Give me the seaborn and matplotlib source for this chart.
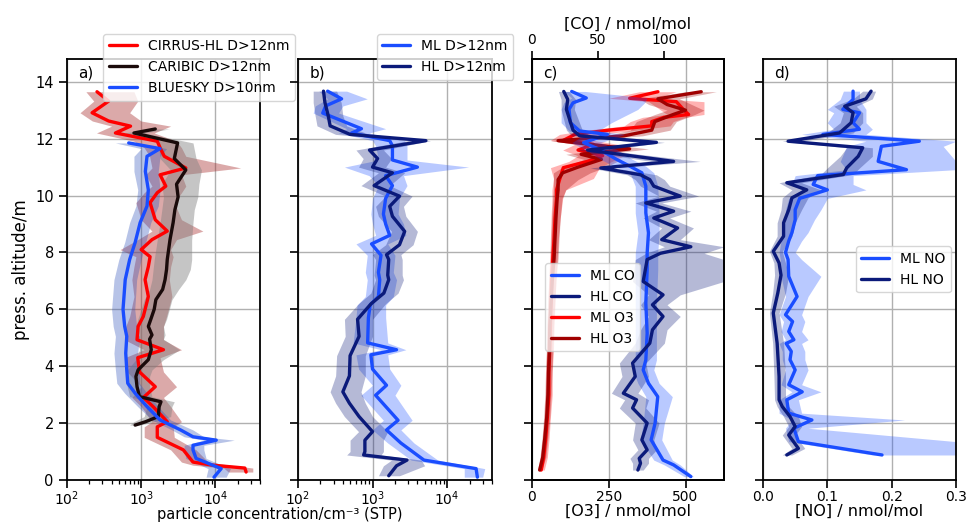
import matplotlib
matplotlib.use('Agg')
import matplotlib.pyplot as plt
import seaborn as sns
import numpy as np

# ---------------- data ----------------
# panel a: CIRRUS-HL D>12nm
cir_alt = [0.28, 0.42, 0.52, 0.63, 1.06, 1.5, 1.87, 2.05, 2.58, 2.9, 3.28, 3.8, 4.3, 4.58, 4.93, 5.4, 5.75, 6.45, 7.04, 7.5,
           7.85, 8.1, 8.45, 8.75, 9.15, 9.75, 10.1, 10.33, 10.73, 10.97, 11.38, 11.68, 11.91, 12.2, 12.44, 12.62, 12.91, 13.32, 13.65]
cir_val = [26000, 25000, 9300, 5000, 3700, 1650, 1650, 2250, 1450, 1070, 1550, 950, 900, 2000, 880, 910, 1070, 1250, 1130, 1250,
           1320, 1000, 1400, 2250, 1550, 1320, 1650, 2150, 1800, 4000, 2050, 1800, 1650, 450, 720, 365, 218, 365, 254]
cir_lo = [15000, 13000, 5000, 3500, 2500, 1100, 1100, 1400, 1000, 750, 1000, 650, 600, 1100, 600, 620, 700, 800, 750, 800,
          850, 520, 900, 1400, 1000, 850, 1100, 1400, 1150, 1400, 1300, 1100, 800, 250, 400, 220, 150, 230, 180]
cir_hi = [32000, 32000, 16000, 8000, 5500, 2800, 2700, 3500, 2500, 2000, 3000, 2000, 1800, 3500, 2000, 2000, 2200, 2600, 2400, 2500,
          2700, 2500, 3000, 6800, 3500, 2800, 3500, 4000, 3500, 22000, 4000, 3500, 3000, 1500, 2500, 1000, 700, 900, 800]

# panel a: CARIBIC D>12nm
car_alt = [1.93, 2.05, 2.23, 2.58, 2.75, 2.93, 3.28, 3.64, 3.87, 4.23, 4.58, 4.95, 5.1, 5.4, 5.65, 6.0, 6.34, 6.7, 7.04, 7.4,
           7.75, 8.45, 9.05, 9.5, 9.95, 10.4, 10.9, 11.3, 11.85, 12.2, 12.34]
car_val = [830, 1150, 1700, 1750, 1850, 950, 880, 850, 910, 1250, 1370, 1300, 1400, 1250, 1350, 1500, 1580, 1950, 2100, 2200,
           2250, 2450, 2700, 2850, 3150, 3000, 4000, 2800, 3100, 800, 1550]
car_lo = [700, 800, 1100, 1200, 1300, 700, 650, 620, 650, 850, 950, 900, 950, 850, 900, 1000, 1100, 1300, 1400, 1450,
          1500, 1650, 1800, 1900, 2000, 1900, 2500, 1800, 1700, 600, 1300]
car_hi = [950, 1500, 2500, 2600, 2800, 1400, 1300, 1300, 1400, 2000, 3300, 2000, 2100, 2000, 2200, 2400, 2600, 3200, 4000, 4600,
          4800, 4800, 5000, 5200, 5800, 6000, 6500, 5500, 5000, 1100, 2400]

# panel a: BLUESKY D>10nm
blu_alt = [0.1, 0.4, 0.76, 1.06, 1.22, 1.4, 1.52, 1.76, 2.11, 2.58, 3.05, 3.4, 3.87, 4.46, 5.05, 5.4, 6.0, 7.04, 7.75, 8.35,
           9.05, 9.63, 10.2, 10.85, 11.38, 11.65, 11.85]
blu_val = [9600, 12000, 5500, 5000, 5000, 10300, 5000, 3400, 1800, 1200, 830, 660, 640, 620, 640, 600, 570, 610, 700, 830,
           970, 1200, 1250, 1140, 1200, 1800, 680]
blu_lo = [7500, 8000, 4000, 3800, 3800, 7000, 3800, 2600, 1400, 900, 600, 470, 450, 430, 450, 420, 400, 430, 500, 600,
          700, 850, 900, 800, 800, 1000, 450]
blu_hi = [14000, 16000, 7500, 7000, 7000, 18000, 7000, 5000, 2500, 1700, 1200, 950, 950, 900, 950, 870, 820, 870, 1000, 1150,
          1350, 1700, 1800, 1700, 1800, 2200, 900]

# panel b: ML D>12nm
bml_alt = [0.1, 0.4, 0.7, 1.3, 1.76, 2.1, 2.98, 3.33, 3.9, 4.4, 4.58, 4.82, 5.7, 6.15, 6.45, 7.04, 7.3, 7.9, 8.3, 8.6,
           9.0, 9.35, 9.9, 10.35, 10.7, 11.0, 11.25, 11.75, 11.93, 12.2, 12.35, 12.9, 13.15, 13.4, 13.67]
bml_val = [25500, 24500, 4900, 2400, 1540, 2200, 1100, 1540, 1000, 950, 2100, 860, 880, 930, 1200, 1250, 1200, 1300, 970, 1700,
           1500, 1400, 1500, 1850, 1500, 4000, 1850, 1850, 1700, 525, 710, 215, 235, 385, 250]
bml_lo = [17000, 17000, 3300, 1600, 1000, 1400, 700, 1000, 650, 600, 1300, 550, 600, 620, 800, 850, 800, 850, 600, 1100,
          1000, 950, 1000, 1200, 900, 420, 1200, 1100, 1000, 350, 450, 160, 170, 250, 190]
bml_hi = [30000, 32000, 7500, 3600, 2400, 3400, 2000, 2400, 1700, 1600, 2800, 1600, 1500, 1500, 1900, 2100, 1900, 2000, 1600, 2800,
          2600, 2200, 2300, 2900, 2600, 19500, 2900, 2900, 2700, 900, 1500, 350, 400, 850, 450]

# panel b: HL D>12nm
bhl_alt = [0.15, 0.5, 0.7, 0.88, 1.0, 1.4, 1.7, 2.23, 2.7, 3.1, 3.66, 4.37, 5.05, 5.65, 6.2, 6.57, 7.04, 7.2, 7.75, 7.92,
           8.27, 8.74, 9.27, 9.62, 9.98, 10.35, 10.8, 11.0, 11.3, 11.6, 11.93, 12.15, 12.45, 12.8, 13.27, 13.67]
bhl_val = [1650, 2100, 2900, 760, 790, 790, 1000, 660, 490, 400, 490, 500, 660, 630, 960, 1420, 1650, 1600, 1650, 1540,
           2300, 2700, 1850, 1700, 2300, 1050, 1850, 1000, 1170, 910, 5200, 500, 270, 255, 230, 220]
bhl_lo = [1200, 1400, 1800, 450, 500, 500, 650, 420, 320, 270, 320, 330, 430, 420, 650, 950, 1100, 1050, 1100, 1000,
          1500, 1800, 1200, 1100, 1500, 700, 1200, 650, 750, 600, 3000, 320, 180, 170, 160, 160]
bhl_hi = [2300, 5000, 4500, 1300, 1400, 1400, 1600, 1000, 800, 700, 800, 800, 1000, 1000, 1500, 2200, 2600, 2500, 2500, 2400,
          3500, 4000, 2800, 2600, 3400, 1700, 2700, 1500, 1800, 1400, 6000, 900, 450, 400, 380, 330]

# panel c: ML CO
cml_alt = [0.12, 0.53, 0.7, 1.41, 2.0, 2.93, 3.4, 3.87, 4.22, 5.16, 6.22, 7.39, 7.98, 8.69, 9.39, 10.33, 10.8, 11.03, 11.27, 11.62,
           11.86, 12.15, 12.27, 12.56, 13.03, 13.26, 13.43, 13.66]
cml_val = [120, 107, 99, 90, 93, 95, 88, 84, 86, 87, 86, 87, 87, 88, 86, 86, 83, 74, 64, 51,
           39, 57, 36, 29, 28, 31, 41, 30]
cml_lo = [115, 100, 92, 82, 84, 86, 80, 76, 78, 78, 78, 78, 78, 80, 78, 78, 74, 62, 52, 40,
          30, 40, 28, 22, 22, 24, 30, 24]
cml_hi = [122, 112, 106, 98, 100, 106, 96, 92, 94, 94, 94, 95, 95, 96, 96, 95, 92, 86, 76, 64,
          52, 70, 50, 60, 80, 85, 87, 40]

# panel c: HL CO
chl_alt = [0.35, 0.59, 0.76, 1.06, 1.41, 2.0, 2.53, 2.82, 3.05, 3.64, 4.11, 4.81, 5.28, 5.75, 6.16, 6.51, 6.98, 7.75, 7.97, 8.2,
           8.45, 8.86, 9.21, 9.45, 9.74, 9.98, 10.33, 10.56, 10.73, 10.97, 11.2, 11.6, 11.87, 12.1, 12.3, 13.03, 13.38, 13.66]
chl_val = [80, 82, 81, 87, 83, 87, 76, 79, 69, 78, 76, 89, 91, 99, 91, 99, 84, 87, 97, 120,
           98, 110, 92, 107, 86, 112, 92, 89, 82, 52, 107, 42, 94, 36, 31, 26, 27, 24]
chl_lo = [76, 76, 74, 80, 76, 78, 66, 70, 60, 68, 66, 78, 82, 88, 82, 88, 76, 78, 86, 100,
          88, 98, 84, 94, 78, 96, 82, 78, 72, 44, 90, 34, 80, 30, 26, 22, 22, 20]
chl_hi = [84, 88, 88, 94, 92, 96, 86, 88, 80, 88, 86, 100, 102, 112, 102, 112, 145, 145, 130, 145,
          112, 122, 104, 120, 98, 126, 104, 100, 94, 62, 127, 54, 100, 44, 38, 32, 33, 28]

# panel c: ML O3
oml_alt = [0.35, 0.8, 1.5, 2.2, 3.0, 3.8, 4.6, 5.4, 6.2, 7.0, 7.8, 8.5, 9.2, 9.9, 10.2, 10.6, 10.98, 11.2, 11.4, 11.6,
           11.8, 11.94, 12.15, 12.3, 12.45, 12.6, 12.75, 12.85, 13.0, 13.3, 13.42, 13.65]
oml_val = [30, 38, 45, 50, 55, 55, 58, 60, 62, 64, 68, 72, 75, 80, 80, 91, 102, 180, 230, 150,
           200, 102, 140, 250, 390, 390, 430, 510, 495, 470, 318, 410]
oml_lo = [22, 28, 35, 40, 44, 45, 48, 50, 52, 54, 58, 60, 62, 65, 65, 70, 60, 120, 150, 100,
          140, 60, 90, 180, 300, 320, 360, 440, 420, 380, 250, 350]
oml_hi = [40, 50, 56, 60, 66, 66, 70, 72, 75, 78, 82, 86, 92, 100, 110, 200, 220, 260, 300, 220,
          280, 200, 220, 340, 450, 460, 500, 560, 560, 560, 400, 470]

# panel c: HL O3
ohl_alt = [0.35, 0.8, 1.5, 2.2, 3.0, 3.8, 4.6, 5.4, 6.2, 7.0, 7.8, 8.5, 9.2, 9.9, 10.2, 10.56, 10.8, 11.0, 11.27, 11.45,
           11.64, 11.93, 12.1, 12.3, 12.6, 12.85, 13.0, 13.2, 13.4, 13.65]
ohl_val = [25, 35, 42, 48, 52, 54, 57, 58, 62, 66, 72, 75, 78, 82, 85, 85, 100, 150, 226, 160,
           318, 85, 300, 390, 400, 460, 500, 440, 410, 551]
ohl_lo = [18, 26, 33, 38, 42, 44, 47, 48, 51, 55, 60, 62, 64, 68, 70, 70, 70, 100, 170, 110,
          250, 60, 240, 320, 340, 400, 440, 380, 350, 500]
ohl_hi = [32, 45, 52, 58, 62, 65, 68, 70, 74, 78, 85, 88, 92, 98, 110, 150, 190, 240, 290, 230,
          380, 140, 360, 450, 470, 530, 560, 520, 480, 600]

# panel d: ML NO
nml_alt = [0.88, 1.35, 1.82, 2.11, 2.35, 2.82, 3.1, 3.35, 3.87, 4.23, 4.52, 4.8, 4.93, 5.22, 5.57, 5.81, 6.45, 7.16, 7.75, 8.0,
           8.4, 8.7, 9.15, 9.5, 9.9, 10.2, 10.39, 10.7, 10.91, 11.2, 11.73, 11.91, 12.15, 12.33, 12.56, 12.91, 13.03, 13.38, 13.67]
nml_val = [0.185, 0.055, 0.048, 0.076, 0.040, 0.037, 0.061, 0.040, 0.050, 0.042, 0.044, 0.036, 0.048, 0.040, 0.046, 0.035, 0.053, 0.040, 0.039, 0.035,
           0.040, 0.045, 0.050, 0.050, 0.057, 0.100, 0.078, 0.085, 0.223, 0.179, 0.184, 0.243, 0.093, 0.150, 0.140, 0.150, 0.124, 0.140, 0.140]
nml_lo = [0.17, 0.04, 0.035, 0.045, 0.025, 0.025, 0.045, 0.028, 0.035, 0.03, 0.03, 0.025, 0.035, 0.028, 0.032, 0.025, 0.035, 0.028, 0.027, 0.025,
          0.028, 0.03, 0.035, 0.035, 0.04, 0.06, 0.045, 0.05, 0.13, 0.12, 0.13, 0.16, 0.06, 0.11, 0.1, 0.11, 0.1, 0.12, 0.125]
nml_hi = [0.30, 0.30, 0.07, 0.22, 0.06, 0.055, 0.09, 0.06, 0.07, 0.065, 0.065, 0.06, 0.07, 0.06, 0.065, 0.06, 0.07, 0.09, 0.06, 0.05,
          0.06, 0.07, 0.08, 0.09, 0.10, 0.16, 0.14, 0.14, 0.30, 0.30, 0.28, 0.30, 0.16, 0.17, 0.16, 0.16, 0.16, 0.15, 0.15]

# panel d: HL NO
nhl_alt = [0.88, 1.11, 1.58, 1.88, 2.23, 2.58, 2.82, 3.64, 4.81, 5.87, 6.57, 7.2, 7.63, 8.04, 8.57, 9.04, 9.5, 9.92, 10.2, 10.45,
           10.74, 10.97, 11.38, 11.68, 11.91, 12.2, 12.56, 12.91, 13.14, 13.4, 13.67]
nhl_val = [0.037, 0.055, 0.040, 0.050, 0.042, 0.030, 0.025, 0.025, 0.022, 0.016, 0.023, 0.028, 0.025, 0.016, 0.032, 0.032, 0.040, 0.045, 0.068, 0.037,
           0.125, 0.130, 0.148, 0.155, 0.039, 0.119, 0.137, 0.140, 0.127, 0.160, 0.168]
nhl_lo = [0.03, 0.045, 0.03, 0.04, 0.032, 0.022, 0.018, 0.017, 0.015, 0.010, 0.015, 0.018, 0.017, 0.010, 0.022, 0.022, 0.028, 0.030, 0.045, 0.025,
          0.09, 0.10, 0.12, 0.13, 0.03, 0.10, 0.12, 0.125, 0.11, 0.14, 0.155]
nhl_hi = [0.045, 0.065, 0.05, 0.06, 0.055, 0.04, 0.035, 0.035, 0.032, 0.025, 0.035, 0.04, 0.035, 0.03, 0.045, 0.05, 0.06, 0.07, 0.09, 0.06,
          0.14, 0.15, 0.17, 0.17, 0.06, 0.14, 0.155, 0.155, 0.145, 0.17, 0.175]

# ---------------- style ----------------
sns.set_theme(style='ticks')
plt.rcParams['font.family'] = ['DejaVu Sans']
plt.rcParams.update({
    'font.size': 10, 'axes.labelsize': 11, 'xtick.labelsize': 10, 'ytick.labelsize': 10.5,
    'legend.fontsize': 10, 'axes.linewidth': 1.3, 'axes.edgecolor': 'black',
    'xtick.major.width': 1.2, 'ytick.major.width': 1.2, 'xtick.major.size': 5.5, 'ytick.major.size': 6,
    'xtick.minor.size': 3.2, 'xtick.minor.width': 0.9, 'xtick.major.pad': 1.5,
    'xtick.color': 'black', 'ytick.color': 'black', 'text.color': 'black', 'axes.labelcolor': 'black',
})

C_ML = '#1a4dff'
C_HL = '#0b1a7a'
C_RED = '#ff0000'
C_DRED = '#a00000'

fig = plt.figure(figsize=(9.69, 5.25), dpi=100)
bottom, height = 0.0857, 0.8019
axa = fig.add_axes([0.0691, bottom, 0.1992, height])
axb = fig.add_axes([0.3075, bottom, 0.2002, height])
axc = fig.add_axes([0.5490, bottom, 0.1981, height])
axd = fig.add_axes([0.7874, bottom, 0.1992, height])


def profile(ax, val, alt, lo, hi, color, fcolor, falpha, label):
    ax.fill_betweenx(alt, lo, hi, color=fcolor, alpha=falpha, lw=0)
    sns.lineplot(x=val, y=alt, orient='y', sort=False, estimator=None,
                 color=color, lw=2.4, ax=ax, label=label)


for ax in (axa, axb):
    ax.set_xscale('log')

profile(axa, cir_val, cir_alt, cir_lo, cir_hi, C_RED, 'brown', 0.4, 'CIRRUS-HL D>12nm')
profile(axa, car_val, car_alt, car_lo, car_hi, '#1a0a0a', 'gray', 0.45, 'CARIBIC D>12nm')
profile(axa, blu_val, blu_alt, blu_lo, blu_hi, C_ML, '#3355bb', 0.35, 'BLUESKY D>10nm')

profile(axb, bml_val, bml_alt, bml_lo, bml_hi, C_ML, C_ML, 0.3, 'ML D>12nm')
profile(axb, bhl_val, bhl_alt, bhl_lo, bhl_hi, C_HL, C_HL, 0.3, 'HL D>12nm')

axc2 = axc.twiny()
profile(axc, oml_val, oml_alt, oml_lo, oml_hi, C_RED, C_RED, 0.3, 'ML O3')
profile(axc, ohl_val, ohl_alt, ohl_lo, ohl_hi, C_DRED, C_DRED, 0.3, 'HL O3')
profile(axc2, cml_val, cml_alt, cml_lo, cml_hi, C_ML, C_ML, 0.3, 'ML CO')
profile(axc2, chl_val, chl_alt, chl_lo, chl_hi, C_HL, C_HL, 0.3, 'HL CO')

profile(axd, nml_val, nml_alt, nml_lo, nml_hi, C_ML, C_ML, 0.3, 'ML NO')
profile(axd, nhl_val, nhl_alt, nhl_lo, nhl_hi, C_HL, C_HL, 0.3, 'HL NO')

for ax in (axa, axb, axc, axd):
    ax.set_ylim(0, 14.8)
    ax.set_yticks(np.arange(0, 15, 2))
    ax.grid(True, which='major', color='#b0b0b0', lw=1.0)
    ax.set_axisbelow(True)
    ax.set_ylabel('')
    for s in ax.spines.values():
        s.set_visible(True)
        s.set_color('black')
        s.set_linewidth(1.3)

axa.set_xlim(100, 4e4)
axb.set_xlim(100, 4e4)
axc.set_xlim(0, 625)
axc.set_xticks([0, 250, 500])
axc2.set_xlim(0, 145)
axc2.set_xticks([0, 50, 100])
axc2.set_ylim(0, 14.8)
axc2.grid(False)
axc2.tick_params(axis='x', pad=3)
axd.set_xlim(0, 0.3)
axd.set_xticks([0.0, 0.1, 0.2, 0.3])

for ax in (axb, axc, axd):
    ax.tick_params(axis='y', labelleft=False)
axa.tick_params(axis='y', labelleft=True)

axa.set_ylabel('press. altitude/m', fontsize=12)
axa.set_xlabel('particle concentration/cm\u207b\u00b3 (STP)', fontsize=10.5)
axa.xaxis.set_label_coords(1.10, -0.064)
axb.set_xlabel('')
axc.set_xlabel('[O3] / nmol/mol', fontsize=11.5, labelpad=0)
axc2.set_xlabel('[CO] / nmol/mol', fontsize=11.5, labelpad=3)
axd.set_xlabel('[NO] / nmol/mol', fontsize=11.5, labelpad=0)

for ax, t in zip((axa, axb, axc, axd), ('a)', 'b)', 'c)', 'd)')):
    ax.text(0.06, 0.985, t, transform=ax.transAxes, va='top', ha='left', fontsize=11)

leg_kw = dict(frameon=True, framealpha=0.8, edgecolor='0.8', fancybox=True, borderaxespad=0)
axa.legend(loc='upper right', bbox_to_anchor=(1.18, 1.06), **leg_kw)
axb.legend(loc='upper right', bbox_to_anchor=(1.11, 1.06), **leg_kw)
h1, l1 = axc.get_legend_handles_labels()
h2, l2 = axc2.get_legend_handles_labels()
if axc.get_legend() is not None:
    axc.get_legend().remove()
axc2.legend(h2 + h1, l2 + l1, loc='upper left', bbox_to_anchor=(0.07, 0.515), **leg_kw)
axd.legend(loc='upper right', bbox_to_anchor=(0.975, 0.555), **leg_kw)

fig.savefig('out.png', dpi=100)
